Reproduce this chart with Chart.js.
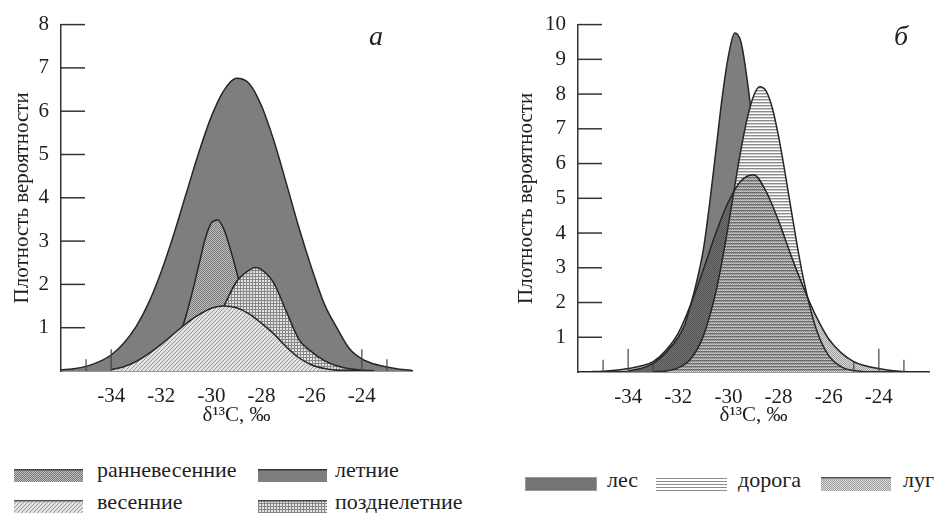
<!DOCTYPE html>
<html><head><meta charset="utf-8">
<script src="https://cdn.jsdelivr.net/npm/chart.js@4.4.1/dist/chart.umd.min.js"></script>
<style>
html,body{margin:0;padding:0;background:#fff;}
body{width:937px;height:513px;position:relative;overflow:hidden;font-family:"Liberation Serif","Times New Roman",serif;color:#1e1e1e;}
canvas.chart{position:absolute;top:0;}
#cA{left:0;} #cB{left:470px;}
.lbl{position:absolute;font-style:italic;font-size:28px;line-height:28px;}
.leg{position:absolute;font-size:22px;line-height:22px;white-space:nowrap;}
.sw{position:absolute;}
</style></head><body>
<canvas id="cA" class="chart" width="470" height="440"></canvas>
<canvas id="cB" class="chart" width="467" height="440"></canvas>
<div class="lbl" style="left:369px;top:22px">а</div>
<div class="lbl" style="left:894px;top:22px">б</div>

<canvas class="sw" id="swRanne" width="69" height="13" style="left:14px;top:469px"></canvas>
<div class="leg" style="left:97px;top:459px">ранневесенние</div>
<canvas class="sw" id="swLetnie" width="69" height="13" style="left:258px;top:469px"></canvas>
<div class="leg" style="left:335px;top:459px">летние</div>
<canvas class="sw" id="swVes" width="69" height="13" style="left:14px;top:500px"></canvas>
<div class="leg" style="left:97px;top:491px">весенние</div>
<canvas class="sw" id="swPozdne" width="69" height="13" style="left:258px;top:500px"></canvas>
<div class="leg" style="left:335px;top:491px">позднелетние</div>

<canvas class="sw" id="swLes" width="72" height="14" style="left:525px;top:477px"></canvas>
<div class="leg" style="left:607px;top:469px">лес</div>
<canvas class="sw" id="swDoroga" width="71" height="14" style="left:656px;top:477px"></canvas>
<div class="leg" style="left:738px;top:469px">дорога</div>
<canvas class="sw" id="swLug" width="70" height="14" style="left:821px;top:477px"></canvas>
<div class="leg" style="left:903px;top:469px">луг</div>

<script>
// ---------- data: panel а ----------
const xTickLabels = [-34, -32, -30, -28, -26, -24];
const yTicksA = [1, 2, 3, 4, 5, 6, 7, 8];
const yTicksB = [1, 2, 3, 4, 5, 6, 7, 8, 9, 10];

const letnieX = [-36,-35.5,-35,-34.5,-34,-33.5,-33,-32.5,-32,-31.5,-31,-30.5,-30,-29.5,-29,-28.5,-28,-27.5,-27,-26.5,-26,-25.5,-25,-24.5,-24,-23.5,-23,-22.5,-22];
const letnieY = [0.025,0.053,0.107,0.21,0.37,0.64,1.03,1.58,2.30,3.16,4.11,5.05,5.88,6.48,6.76,6.64,6.12,5.30,4.31,3.29,2.37,1.55,1.0,0.52,0.28,0.16,0.09,0.04,0.02];

const ranneX = [-32.5,-32,-31.5,-31.25,-31,-30.75,-30.5,-30.25,-30,-29.75,-29.5,-29.25,-29,-28.75,-28.5,-28.25,-28,-27.5,-27];
const ranneY = [0.03,0.14,0.5,0.85,1.3,1.85,2.45,3.05,3.42,3.49,3.27,2.82,2.3,1.7,1.15,0.72,0.42,0.12,0.03];

const pozdneX = [-31,-30.5,-30,-29.5,-29,-28.5,-28.25,-28,-27.5,-27,-26.5,-26,-25.5,-25,-24.5,-24,-23.5];
const pozdneY = [0.15,0.4,0.85,1.5,2.06,2.33,2.39,2.34,2.02,1.36,0.72,0.44,0.24,0.12,0.05,0.02,0.005];

const vesX = [-34,-33.5,-33,-32.5,-32,-31.5,-31,-30.5,-30,-29.5,-29,-28.5,-28,-27.5,-27,-26.5,-26,-25.5,-25,-24.5,-24];
const vesY = [0.03,0.1,0.22,0.4,0.62,0.86,1.1,1.3,1.45,1.5,1.46,1.32,1.1,0.85,0.55,0.3,0.14,0.06,0.02,0.01,0];

const marksAX = [-35, -34, -24, -23];
const marksAH = [0.27, 0.5, 0.5, 0.27];

// ---------- data: panel б ----------
const lesX = [-34,-33.5,-33,-32.5,-32,-31.75,-31.5,-31.25,-31,-30.75,-30.5,-30.25,-30,-29.75,-29.5,-29.25,-29,-28.75,-28.5,-28.25,-28,-27.5,-27,-26.5,-26,-25.5,-25];
const lesY = [0.03,0.1,0.25,0.55,1.0,1.35,1.95,2.65,3.52,4.85,6.37,7.9,9.1,9.76,9.5,8.4,6.9,5.3,3.8,2.6,1.7,0.8,0.4,0.2,0.08,0.03,0.01];

const dorogaX = [-33,-32.5,-32,-31.5,-31,-30.5,-30.25,-30,-29.75,-29.5,-29.25,-29,-28.75,-28.5,-28.25,-28,-27.75,-27.5,-27.25,-27,-26.5,-26,-25.5,-25,-24.5];
const dorogaY = [0.006,0.03,0.12,0.38,1.04,2.31,3.21,4.24,5.34,6.40,7.30,7.94,8.21,8.09,7.60,6.78,5.77,4.68,3.61,2.65,1.24,0.47,0.15,0.04,0.01];

const lugX = [-36,-35.5,-35,-34.5,-34,-33.5,-33,-32.5,-32,-31.5,-31,-30.5,-30,-29.5,-29,-28.5,-28,-27.5,-27,-26.5,-26,-25.5,-25,-24.5,-24,-23.5,-23,-22.5,-22];
const lugY = [0.005,0.01,0.02,0.05,0.1,0.17,0.3,0.62,1.12,1.95,2.95,4.0,4.9,5.5,5.68,5.2,4.35,3.35,2.42,1.6,0.95,0.55,0.3,0.17,0.1,0.04,0.015,0.005,0.002];

const marksBX = [-35, -34, -33, -25, -24, -23];
const marksBH = [0.35, 0.67, 0.3, 0.3, 0.67, 0.35];

// ---------- helpers ----------
const FONT = '"Liberation Serif","Times New Roman",serif';
const pts = (xs, ys) => xs.map((x, i) => ({x: x, y: ys[i]}));
const markPts = (xs, hs) => {
  const out = [];
  xs.forEach((x, i) => { out.push({x: x, y: 0}, {x: x, y: hs[i]}, {x: x, y: null}); });
  return out;
};
function makePattern(w, h, draw) {
  const c = document.createElement('canvas'); c.width = w; c.height = h;
  const g = c.getContext('2d'); draw(g);
  return g.createPattern(c, 'repeat');
}
const pDots = makePattern(2, 2, g => { g.fillStyle = '#c0c0c0'; g.fillRect(0,0,2,2); g.fillStyle = '#787878'; g.fillRect(0,0,1,1); g.fillRect(1,1,1,1); });
const pGrid = makePattern(3, 3, g => { g.fillStyle = '#e2e2e2'; g.fillRect(0,0,3,3); g.fillStyle = '#868686'; g.fillRect(0,0,3,1); g.fillRect(0,0,1,3); });
const pDiag = makePattern(4, 4, g => { g.fillStyle = '#e2e2e2'; g.fillRect(0,0,4,4); g.fillStyle = '#989898'; g.fillRect(0,3,1,1); g.fillRect(1,2,1,1); g.fillRect(2,1,1,1); g.fillRect(3,0,1,1); });
const pHLines = makePattern(4, 3, g => { g.fillStyle = '#ffffff'; g.fillRect(0,0,4,3); g.fillStyle = '#8c8c8c'; g.fillRect(0,0,4,1); g.fillStyle = '#cdcdcd'; g.fillRect(0,1,4,1); });
const pLug = makePattern(2, 2, g => { g.fillStyle = 'rgba(40,40,40,0.44)'; g.fillRect(0,0,1,1); g.fillRect(1,1,1,1); g.fillStyle = 'rgba(40,40,40,0.18)'; g.fillRect(1,0,1,1); g.fillRect(0,1,1,1); });
const SOLID = '#7e7e7e';
const LINE = '#262626';

const inTicks = {
  id: 'inTicks',
  afterDraw(chart) {
    const {ctx, chartArea: a, scales: {y}} = chart;
    ctx.save(); ctx.strokeStyle = '#333'; ctx.lineWidth = 1.5;
    y.ticks.forEach(t => {
      const py = y.getPixelForValue(t.value);
      ctx.beginPath(); ctx.moveTo(a.left, py); ctx.lineTo(a.left + 24, py); ctx.stroke();
    });
    ctx.restore();
  }
};

function curve(label, xs, ys, bg, order) {
  return {label, data: pts(xs, ys), backgroundColor: bg, borderColor: LINE, borderWidth: 1.5,
          fill: 'origin', order, cubicInterpolationMode: 'monotone', pointRadius: 0};
}
function marks(xs, hs) {
  return {label: 'marks', data: markPts(xs, hs), borderColor: '#444', borderWidth: 1.2, fill: false,
          order: 0, tension: 0, pointRadius: 0, spanGaps: false};
}

function makeChart(id, datasets, yMax, yTicks, pad, yW, xH) {
  return new Chart(document.getElementById(id), {
    type: 'line',
    data: {datasets},
    options: {
      responsive: false, animation: false, devicePixelRatio: 1,
      layout: {padding: pad},
      plugins: {legend: {display: false}, tooltip: {enabled: false}},
      scales: {
        x: {
          type: 'linear', min: -36, max: -22,
          afterBuildTicks: s => { s.ticks = xTickLabels.map(v => ({value: v})); },
          afterFit: s => { s.height = xH; },
          grid: {display: false, drawTicks: false},
          border: {display: true, color: '#333', width: 1.5},
          ticks: {padding: 13, color: '#1e1e1e', font: {family: FONT, size: 21}, maxRotation: 0, autoSkip: false, callback: v => String(v)},
          title: {display: true, text: 'δ¹³C, ‰', color: '#1e1e1e', font: {family: FONT, size: 21}, padding: {top: 0, bottom: 12}}
        },
        y: {
          min: 0, max: yMax,
          afterBuildTicks: s => { s.ticks = yTicks.map(v => ({value: v})); },
          afterFit: s => { s.width = yW; },
          grid: {display: false, drawTicks: false},
          border: {display: true, color: '#333', width: 1.5},
          ticks: {padding: 12, color: '#1e1e1e', font: {family: FONT, size: 21}, callback: v => String(v)},
          title: {display: true, text: 'Плотность вероятности', color: '#1e1e1e', font: {family: FONT, size: 21}, padding: {top: 0, bottom: 0}}
        }
      }
    },
    plugins: [inTicks]
  });
}

makeChart('cA', [
  curve('летние', letnieX, letnieY, SOLID, 4),
  curve('ранневесенние', ranneX, ranneY, pDots, 3),
  curve('позднелетние', pozdneX, pozdneY, pGrid, 2),
  curve('весенние', vesX, vesY, pDiag, 1),
  marks(marksAX, marksAH)
], 8, yTicksA, {left: 10, top: 20, right: 58, bottom: 0}, 51, 69);

makeChart('cB', [
  curve('лес', lesX, lesY, SOLID, 3),
  curve('дорога', dorogaX, dorogaY, pHLines, 2),
  curve('луг', lugX, lugY, pLug, 1),
  marks(marksBX, marksBH)
], 10, yTicksB, {left: 44, top: 21, right: 8, bottom: 0}, 64, 68);

// ---------- legend swatches ----------
function swatch(id, fill, topLine, extra) {
  const c = document.getElementById(id), g = c.getContext('2d');
  g.fillStyle = '#fff'; g.fillRect(0, 0, c.width, c.height);
  g.fillStyle = fill; g.fillRect(0, 0, c.width, c.height);
  if (extra) extra(g, c);
  if (topLine) { g.fillStyle = topLine; g.fillRect(0, 0, c.width, 1.5); }
}
swatch('swRanne', pDots, '#444');
swatch('swLetnie', SOLID, '#333');
swatch('swVes', pDiag, '#555');
swatch('swPozdne', pGrid, '#444');
swatch('swLes', '#747474', null, (g, c) => { g.strokeStyle = '#999'; g.lineWidth = 1; g.strokeRect(0.5, 0.5, c.width - 1, c.height - 1); });
swatch('swDoroga', '#fff', null, (g, c) => { g.fillStyle = '#8c8c8c'; [1, 4, 7, 10, 13].forEach(y => g.fillRect(0, y, c.width, 1)); });
swatch('swLug', pLug, '#555');
</script>
</body></html>
